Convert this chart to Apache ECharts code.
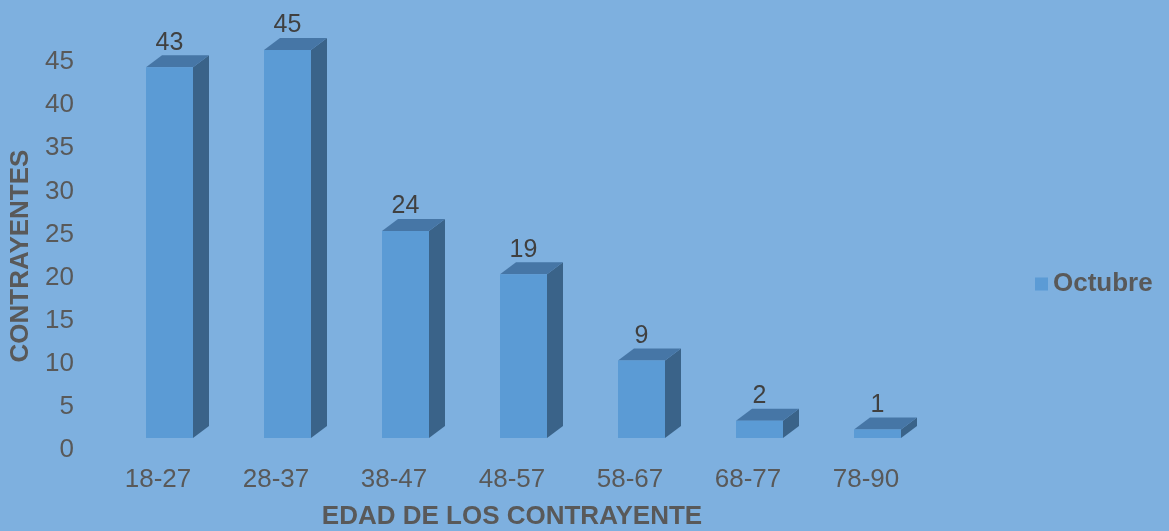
<!DOCTYPE html>
<html>
<head>
<meta charset="utf-8">
<script src="https://cdn.jsdelivr.net/npm/echarts@6/dist/echarts.min.js"></script>
<style>
  html, body { margin: 0; padding: 0; background: #7EB0DF; }
  #chart { width: 1169px; height: 531px; }
</style>
</head>
<body>
<div id="chart"></div>
<script>
var categorias = ['18-27', '28-37', '38-47', '48-57', '58-67', '68-77', '78-90'];
var octubre = [43, 45, 24, 19, 9, 2, 1];
var yTicks = [0, 5, 10, 15, 20, 25, 30, 35, 40, 45];

var chart = echarts.init(document.getElementById('chart'));

// barra 3D estilo excel: frente, lado y tapa
function renderBar(params, api) {
  var idx = api.value(0);
  var val = api.value(1);
  var top = api.coord([idx, val]);
  var base = api.coord([idx, 0]);
  var lift = 12;              // el frente queda algo por encima del eje
  var x0 = top[0] - 12;
  var w = 47;
  var dx = 16, dy = -12;
  var yt = top[1] - lift;
  var yb = base[1] - lift;
  return {
    type: 'group',
    children: [
      { type: 'polygon', shape: { points: [[x0 + w, yt], [x0 + w + dx, yt + dy], [x0 + w + dx, yb + dy], [x0 + w, yb]] },
        style: { fill: '#3A6389' } },
      { type: 'polygon', shape: { points: [[x0, yt], [x0 + dx, yt + dy], [x0 + w + dx, yt + dy], [x0 + w, yt]] },
        style: { fill: '#4676A6' } },
      { type: 'rect', shape: { x: x0, y: yt, width: w, height: yb - yt },
        style: { fill: '#5B9BD5' } },
      { type: 'text', x: x0 + w / 2, y: yt + dy,
        style: { text: String(val), fill: '#404040', font: '25px "Liberation Sans", Arial, sans-serif',
          align: 'center', verticalAlign: 'bottom' } }
    ]
  };
}

var fuente = '"Liberation Sans", Arial, sans-serif';

chart.setOption({
  backgroundColor: '#7EB0DF',
  animation: false,
  grid: { left: 99, right: 244, top: 62, bottom: 81, outerBoundsMode: 'none' },
  legend: {
    data: ['Octubre'],
    left: 1030, top: 266,
    icon: 'rect', itemWidth: 13, itemHeight: 13,
    textStyle: { color: '#595959', fontSize: 26, fontWeight: 'bold', fontFamily: fuente }
  },
  xAxis: {
    type: 'category',
    data: categorias,
    name: 'EDAD DE LOS CONTRAYENTE',
    nameLocation: 'center',
    nameGap: 54,
    nameTextStyle: { color: '#595959', fontSize: 26, fontWeight: 'bold', fontFamily: fuente },
    axisLine: { show: false },
    axisTick: { show: false },
    axisLabel: { color: '#595959', fontSize: 26, margin: 17, fontFamily: fuente }
  },
  yAxis: {
    type: 'value',
    min: 0, max: yTicks[yTicks.length - 1], interval: 5,
    name: 'CONTRAYENTES',
    nameLocation: 'center',
    nameGap: 64,
    nameTextStyle: { color: '#595959', fontSize: 26, fontWeight: 'bold', fontFamily: fuente },
    axisLine: { show: false },
    axisTick: { show: false },
    splitLine: { show: false },
    axisLabel: { color: '#595959', fontSize: 26, margin: 25, fontFamily: fuente }
  },
  series: [{
    name: 'Octubre',
    type: 'custom',
    itemStyle: { color: '#5B9BD5' },
    renderItem: renderBar,
    encode: { x: 0, y: 1 },
    data: octubre.map(function (v, i) { return [i, v]; })
  }]
});
</script>
</body>
</html>
